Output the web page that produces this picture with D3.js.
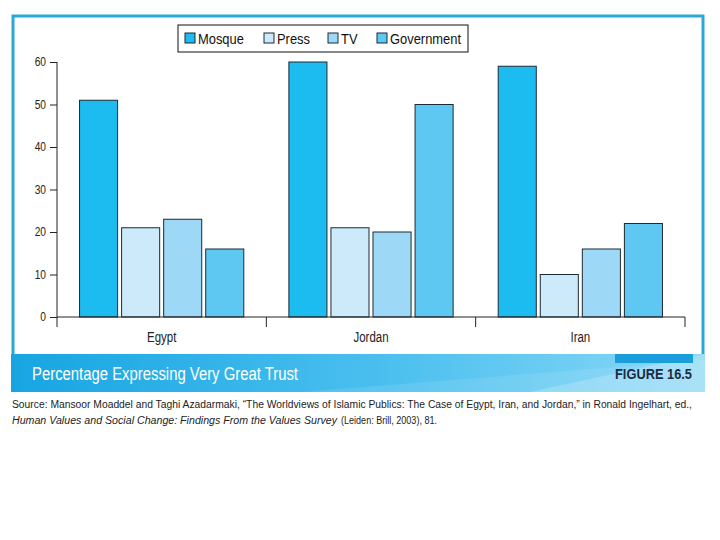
<!DOCTYPE html>
<html>
<head>
<meta charset="utf-8">
<script src="https://cdn.jsdelivr.net/npm/d3@7"></script>
<style>
  body { margin:0; background:#fff; }
  svg text { font-family: "Liberation Sans Narrow", "Liberation Sans", Arial, sans-serif; }
</style>
</head>
<body>
<svg id="chart" width="720" height="540"></svg>
<script>
// data
var countries = ["Egypt", "Jordan", "Iran"];
var series = ["Mosque", "Press", "TV", "Government"];
var mosque = [51, 60, 59];
var press = [21, 21, 10];
var tv = [23, 20, 16];
var government = [16, 50, 22];
var yTicks = [0, 10, 20, 30, 40, 50, 60];

var colors = {Mosque:"#1dbcf0", Press:"#cdeafa", TV:"#9dd9f6", Government:"#5ec8f2"};

var rows = countries.map(function(c,i){
  return {country:c, values:[mosque[i], press[i], tv[i], government[i]]};
});

// squeeze text horizontally, the original uses a condensed face
function condense(sel, f) {
  sel.each(function(){
    var w = this.getComputedTextLength();
    d3.select(this).attr("textLength", w*f).attr("lengthAdjust","spacingAndGlyphs");
  });
}

var svg = d3.select("#chart");

// outer frame
svg.append("rect")
  .attr("x",13).attr("y",16).attr("width",690).attr("height",340)
  .attr("fill","#fff").attr("stroke","#2aa8d6").attr("stroke-width",3);

var x0 = d3.scaleBand().domain(countries).range([57,685]).padding(0);
var x1 = d3.scaleBand().domain(series).range([0,x0.bandwidth()])
  .paddingInner(0.095).paddingOuter(0.536);
var y = d3.scaleLinear().domain([0,60]).range([317,62]);

// bars
var g = svg.append("g");
var grp = g.selectAll("g.grp").data(rows).enter().append("g")
  .attr("class","grp")
  .attr("transform",function(d){ return "translate("+x0(d.country)+",0)"; });
grp.selectAll("rect").data(function(d){
    return d.values.map(function(v,i){ return {key:series[i], v:v}; });
  }).enter().append("rect")
  .attr("x",function(d){ return x1(d.key); })
  .attr("y",function(d){ return y(d.v); })
  .attr("width",x1.bandwidth())
  .attr("height",function(d){ return y(0)-y(d.v); })
  .attr("fill",function(d){ return colors[d.key]; })
  .attr("stroke","#1b2a33").attr("stroke-width",1);

// y axis
var yAxis = svg.append("g").attr("transform","translate(57,0)")
  .call(d3.axisLeft(y).tickValues(yTicks).tickSize(7).tickPadding(4));
yAxis.select(".domain").attr("stroke","#222").attr("d","M0,62V317");
yAxis.selectAll(".tick line").attr("stroke","#222");
yAxis.selectAll("text").attr("font-size",12).attr("fill","#222")
  .style("font-family","'Liberation Sans Narrow','Liberation Sans',Arial,sans-serif")
  .call(condense, 0.85);

// x axis with ticks at group boundaries
var xAxis = svg.append("g").attr("transform","translate(0,317)");
xAxis.append("line").attr("x1",57).attr("x2",685).attr("y1",0).attr("y2",0)
  .attr("stroke","#222");
var bounds = countries.map(function(c){ return x0(c); }).concat([x0.range()[1]]);
xAxis.selectAll("line.tk").data(bounds).enter().append("line")
  .attr("class","tk")
  .attr("x1",function(d){ return d; }).attr("x2",function(d){ return d; })
  .attr("y1",0).attr("y2",10).attr("stroke","#222");
xAxis.selectAll("text").data(countries).enter().append("text")
  .attr("x",function(d){ return x0(d)+x0.bandwidth()/2; })
  .attr("y",25).attr("text-anchor","middle")
  .attr("font-size",14).attr("fill","#222")
  .text(function(d){ return d; })
  .call(condense, 0.82);

// legend
var lg = svg.append("g");
lg.append("rect").attr("x",178).attr("y",25).attr("width",290).attr("height",27)
  .attr("fill","#fff").attr("stroke","#111").attr("stroke-width",1);
var legX = [185, 264, 328, 377];
var li = lg.selectAll("g.li").data(series).enter().append("g")
  .attr("transform",function(d,i){ return "translate("+legX[i]+",33)"; });
li.append("rect").attr("width",10).attr("height",10)
  .attr("fill",function(d){ return colors[d]; })
  .attr("stroke","#1b2a33").attr("stroke-width",1);
li.append("text").attr("x",13).attr("y",10.5)
  .attr("font-size",15).attr("fill","#111")
  .text(function(d){ return d; })
  .call(condense, 0.86);

// caption banner
var defs = svg.append("defs");
var grad = defs.append("linearGradient").attr("id","bnr")
  .attr("x1","0%").attr("x2","100%").attr("y1","0%").attr("y2","0%");
grad.append("stop").attr("offset","0%").attr("stop-color","#17a5e2");
grad.append("stop").attr("offset","55%").attr("stop-color","#4cc0ef");
grad.append("stop").attr("offset","100%").attr("stop-color","#8ad8f6");
svg.append("rect").attr("x",11).attr("y",354).attr("width",694).attr("height",38)
  .attr("fill","url(#bnr)");
svg.append("path")
  .attr("d","M530,392L705,354L705,392Z")
  .attr("fill","#fff").attr("fill-opacity",0.2);
svg.append("path")
  .attr("d","M300,392L705,360L705,392Z")
  .attr("fill","#fff").attr("fill-opacity",0.1);
svg.append("rect").attr("x",615).attr("y",354).attr("width",78).attr("height",9)
  .attr("fill","#1b9ddb");
svg.append("text").attr("x",32).attr("y",380)
  .attr("font-size",18).attr("fill","#fff")
  .text("Percentage Expressing Very Great Trust")
  .attr("textLength",266).attr("lengthAdjust","spacingAndGlyphs");
svg.append("text").attr("x",615).attr("y",379)
  .attr("font-size",14).attr("font-weight","bold").attr("fill","#1c2b45")
  .text("FIGURE 16.5")
  .attr("textLength",77).attr("lengthAdjust","spacingAndGlyphs");

// source note
var src = svg.append("g").attr("font-size",10).attr("fill","#222");
src.append("text").attr("x",12).attr("y",408)
  .text("Source: Mansoor Moaddel and Taghi Azadarmaki, \u201CThe Worldviews of Islamic Publics: The Case of Egypt, Iran, and Jordan,\u201D in Ronald Ingelhart, ed.,")
  .attr("textLength",680).attr("lengthAdjust","spacingAndGlyphs");
src.append("text").attr("x",12).attr("y",424).attr("font-style","italic")
  .text("Human Values and Social Change: Findings From the Values Survey")
  .attr("textLength",325).attr("lengthAdjust","spacingAndGlyphs");
src.append("text").attr("x",341).attr("y",424)
  .text("(Leiden: Brill, 2003), 81.")
  .attr("textLength",96).attr("lengthAdjust","spacingAndGlyphs");
</script>
</body>
</html>
